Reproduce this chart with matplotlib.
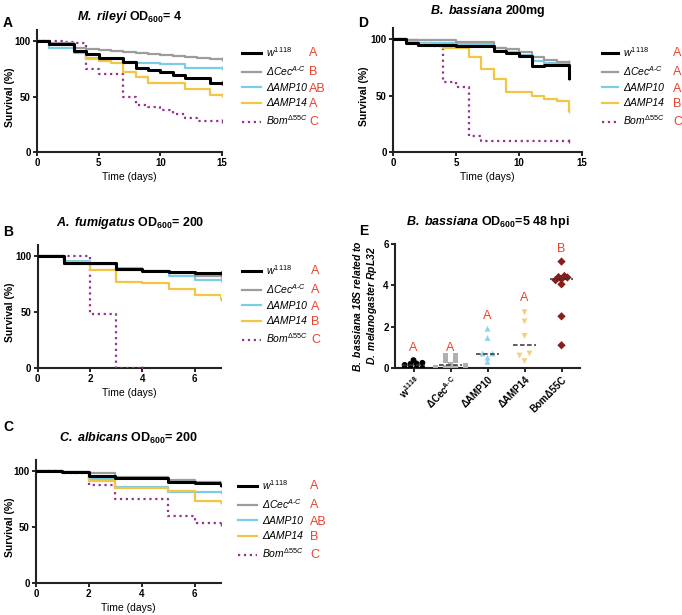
import numpy as np
import matplotlib
matplotlib.use("Agg")
import matplotlib.pyplot as plt

plt.rcParams['font.family'] = ['Liberation Sans', 'DejaVu Sans']
plt.rcParams['mathtext.fontset'] = 'custom'
plt.rcParams['mathtext.rm'] = 'Liberation Sans'
plt.rcParams['mathtext.it'] = 'Liberation Sans:italic'
plt.rcParams['mathtext.bf'] = 'Liberation Sans:bold'
plt.rcParams['mathtext.bfit'] = 'Liberation Sans:italic:bold'

# ---- data ----
labels = [r"$\mathit{w}^{\mathit{1118}}$", r"ΔCec$^{\mathit{A}\text{-}\mathit{C}}$", "ΔAMP10",
          "ΔAMP14", r"Bom$^{\mathit{Δ55C}}$"]
colors = ['black', '#9c9c9c', '#7ccbe9', '#f3c544', '#93358f']

# A: M. rileyi
a_days = list(range(16))
a_w = [100, 97.5, 97.5, 91.5, 88, 84.5, 84.5, 81, 75.5, 73.5, 72, 69.5, 66.5, 66.5, 62, 62]
a_cec = [100, 98, 98, 94, 93, 92, 91, 90, 89.5, 88.5, 87.5, 87, 86, 85, 84, 84]
a_amp10 = [100, 94, 94, 89, 85, 84, 84, 81, 80, 80, 79, 79, 76, 76, 76, 76]
a_amp14 = [100, 97, 97, 90, 84, 82, 80, 72, 68, 62, 62, 62, 57, 57, 51, 51]
a_bom = [100, 100, 99, 98, 75, 70, 70, 50, 42, 41, 38, 34, 31, 28, 28, 28]
a_letters = ['A', 'B', 'AB', 'A', 'C']

# B: A. fumigatus
b_days = list(range(8))
b_w = [100, 94, 94, 88.5, 87, 86, 85, 85]
b_cec = [100, 93, 93, 88, 86.5, 85, 82, 82]
b_amp10 = [100, 96, 93, 89, 87, 82, 79, 79]
b_amp14 = [100, 95, 88, 77, 76, 71, 65, 62]
b_bom_days = [0, 1, 2, 3, 4]
b_bom = [100, 100, 48, 0, 0]
b_letters = ['A', 'A', 'A', 'B', 'C']

# C: C. albicans
c_days = list(range(8))
c_w = [100, 99, 96, 94, 94, 90, 89, 88]
c_cec = [100, 99, 98, 95, 95, 92, 90, 89]
c_amp10 = [100, 99, 93, 86, 86, 81, 81, 81]
c_amp14 = [100, 99, 91, 85, 85, 82, 73, 72]
c_bom = [100, 98, 88, 75, 75, 60, 54, 53]
c_letters = ['A', 'A', 'AB', 'B', 'C']

# D: B. bassiana 200mg
d_days = list(range(15))
d_w = [100, 97, 95, 95, 95, 94, 94, 94, 90, 88, 85, 76, 77, 77, 66]
d_cec = [100, 99, 99, 99, 99, 98, 98, 98, 92, 91, 89, 84, 82, 80, 80]
d_amp10 = [100, 99, 97, 97, 97, 96, 96, 96, 92, 89, 86, 81, 79, 78, 78]
d_amp14 = [100, 98, 96, 95, 92, 92, 84, 74, 64.5, 53.5, 53, 49.5, 47, 45, 36]
d_bom = [100, 99, 97, 94, 62, 58, 14, 10, 10, 10, 10, 10, 10, 10, 10]
d_letters = ['A', 'A', 'A', 'B', 'C']

# E: fungal load
e_groups = [r"w$^{\mathbf{1118}}$", r"ΔCec$^{\mathbf{A}\text{-}\mathbf{C}}$", "ΔAMP10",
            "ΔAMP14", "BomΔ55C"]
e_w = [0.0, 0.0, 0.0, 0.0, 0.15, 0.2, 0.25, 0.22, 0.38]
e_cec = [0.6, 0.6, 0.4, 0.4, 0.15, 0.1, 0.0, 0.0, 0.0]
e_amp10 = [1.9, 1.45, 0.7, 0.7, 0.5, 0.3]
e_amp14 = [2.7, 2.25, 1.55, 0.7, 0.6, 0.33]
e_bom = [5.15, 4.45, 4.4, 4.38, 4.3, 4.25, 4.05, 2.5, 1.1]
e_letters = ['A', 'A', 'A', 'A', 'B']
e_letter_y = [0.95, 0.95, 2.5, 3.4, 5.75]
e_colors = ['black', '#b0b0b0', '#8fd3ee', '#f5cf7a', '#8b1c1c']
e_markers = ['o', 's', '^', 'v', 'D']
e_spread = [0.16, 0.27, 0.27, 0.27, 0.16]

RED = '#e8432e'
W, H = 682, 615
fig = plt.figure(figsize=(W / 100, H / 100), dpi=100)


def px_axes(x0, x1, top, bot):
    return fig.add_axes([x0 / W, 1 - bot / H, (x1 - x0) / W, (bot - top) / H])


def style(ax):
    for s in ['top', 'right']:
        ax.spines[s].set_visible(False)
    for s in ['left', 'bottom']:
        ax.spines[s].set_linewidth(1.5)
        ax.spines[s].set_color('#222222')
    ax.tick_params(direction='out', length=3, width=1.2, labelsize=7, pad=1.5)
    for t in ax.get_xticklabels() + ax.get_yticklabels():
        t.set_fontweight('bold')


def survival(ax, series, xmax, xticks, x0):
    zs = [6, 5, 4, 4, 3]
    for i, (days, vals) in enumerate(series):
        ls = ':' if i == 4 else '-'
        lw = 2.2 if i == 0 else 1.6
        ax.step(days, vals, where='post', color=colors[i], lw=lw, ls=ls,
                label=labels[i], zorder=zs[i])
        ax.plot(days[-1], vals[-1], marker='|', ms=3, color=colors[i], zorder=zs[i])
    ax.set_xlim(0, xmax)
    ax.set_ylim(0, 110)
    ax.set_xticks(xticks)
    ax.set_yticks([0, 50, 100])
    style(ax)
    ax.set_ylabel('Survival (%)', fontsize=7.5, fontweight='bold')
    w = ax.get_position().width * W
    ax.yaxis.set_label_coords((15 - x0) / w, 0.45)
    ax.set_xlabel('Time (days)', fontsize=7.5, labelpad=3)


axA = px_axes(37, 222, 30, 152)
survival(axA, [(a_days, a_w), (a_days, a_cec), (a_days, a_amp10), (a_days, a_amp14),
               (a_days, a_bom)], 15, [0, 5, 10, 15], 37)
axB = px_axes(37.5, 221, 245, 368)
survival(axB, [(b_days, b_w), (b_days, b_cec), (b_days, b_amp10), (b_days, b_amp14),
               (b_bom_days, b_bom)], 7, [0, 2, 4, 6], 37.5)
axC = px_axes(36, 221, 460, 583)
survival(axC, [(c_days, c_w), (c_days, c_cec), (c_days, c_amp10), (c_days, c_amp14),
               (c_days, c_bom)], 7, [0, 2, 4, 6], 36)
axD = px_axes(393, 582, 28, 152)
survival(axD, [(d_days, d_w), (d_days, d_cec), (d_days, d_amp10), (d_days, d_amp14),
               (d_days, d_bom)], 15, [0, 5, 10, 15], 393)
axD.yaxis.set_label_coords((369 - 393) / 189, 0.45)

# E scatter
axE = px_axes(395, 580, 244, 368)
e_data = [e_w, e_cec, e_amp10, e_amp14, e_bom]
for i, vals in enumerate(e_data):
    vals = np.array(vals)
    # simple swarm: group close values into rows and spread them sideways
    order = np.argsort(vals)
    xs = np.zeros(len(vals))
    rows = []
    for j in order:
        if rows and vals[j] - vals[rows[-1][0]] < 0.14:
            rows[-1].append(j)
        else:
            rows.append([j])
    for r in rows:
        n = len(r)
        for k, j in enumerate(r):
            xs[j] = (k - (n - 1) / 2) * e_spread[i]
    axE.scatter(i + xs, vals, marker=e_markers[i], s=18, color=e_colors[i],
                edgecolors='none', zorder=3)
    med = np.median(vals)
    axE.plot([i - 0.3, i + 0.3], [med, med], ls='--', color='#333333', lw=1.1,
             dashes=(3, 1.6), zorder=4)
    axE.text(i, e_letter_y[i], e_letters[i], color=RED, fontsize=9, ha='center', va='center')
axE.set_xlim(-0.5, 4.5)
axE.set_ylim(0, 6)
axE.set_yticks([0, 2, 4, 6])
axE.set_xticks(range(5))
axE.set_xticklabels(e_groups, rotation=45, ha='right', rotation_mode='anchor')
style(axE)
axE.set_ylabel(r"$\mathbfit{B.\ bassiana\ 18S\ related\ to}$" + "\n" +
               r"$\mathbfit{D.\ melanogaster\ RpL32}$", fontsize=7.5, labelpad=3)

# titles and panel letters
fig.text(130 / W, 1 - 17 / H, r"$\mathbfit{M.\ rileyi}$ OD$_{\mathbf{600}}$= 4",
         ha='center', va='center', fontsize=9, fontweight='bold')
fig.text(130 / W, 1 - 223 / H, r"$\mathbfit{A.\ fumigatus}$ OD$_{\mathbf{600}}$= 200",
         ha='center', va='center', fontsize=9, fontweight='bold')
fig.text(128 / W, 1 - 438 / H, r"$\mathbfit{C.\ albicans}$ OD$_{\mathbf{600}}$= 200",
         ha='center', va='center', fontsize=9, fontweight='bold')
fig.text(488 / W, 1 - 11 / H, r"$\mathbfit{B.\ bassiana}$ 200mg",
         ha='center', va='center', fontsize=9, fontweight='bold')
fig.text(488 / W, 1 - 222 / H, r"$\mathbfit{B.\ bassiana}$ OD$_{\mathbf{600}}$=5 48 hpi",
         ha='center', va='center', fontsize=9, fontweight='bold')
for lab, x, y in [('A', 3, 23), ('B', 3, 232), ('C', 3, 427), ('D', 358, 23), ('E', 359, 231)]:
    fig.text(x / W, 1 - y / H, lab, fontsize=10, fontweight='bold', va='center')

# legends with red group letters
legs = []
for ax, lx, ly, letx, lets, hl in [(axA, 242, 45, 309, a_letters, 1.8),
                                  (axB, 242, 263, 311, b_letters, 1.8),
                                  (axC, 238, 478, 310, c_letters, 1.8),
                                  (axD, 602, 45, 673, d_letters, 1.5)]:
    leg = ax.legend(loc='upper left', bbox_to_anchor=(lx / W, 1 - ly / H),
                    bbox_transform=fig.transFigure, frameon=False,
                    prop={'style': 'italic', 'size': 7.5}, handlelength=hl,
                    handletextpad=0.5, labelspacing=0.5, borderaxespad=0, borderpad=0)
    legs.append((leg, letx, lets))

fig.canvas.draw()
for leg, letx, lets in legs:
    for t, l in zip(leg.get_texts(), lets):
        bb = t.get_window_extent()
        yc = (bb.y0 + bb.y1) / 2
        fig.text(letx / W, yc / H - 0.002, l, color=RED, fontsize=9, va='center')

fig.savefig('out.png', dpi=100)
